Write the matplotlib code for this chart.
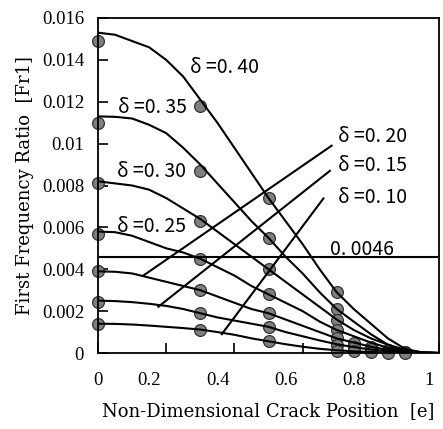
import matplotlib
matplotlib.use("Agg")
import matplotlib.pyplot as plt
from matplotlib.transforms import ScaledTranslation

# ---------------- data ----------------
crack_pos = [0.00, 0.05, 0.10, 0.15, 0.20, 0.25, 0.30, 0.35, 0.40, 0.45, 0.50,
             0.55, 0.60, 0.65, 0.70, 0.75, 0.80, 0.85, 0.90, 0.95, 1.00]

fr_d40 = [0.0153, 0.0152, 0.0149, 0.0146, 0.0140, 0.0132, 0.0121, 0.0110, 0.0098,
          0.0086, 0.0074, 0.0063, 0.0052, 0.0040, 0.0029, 0.0021, 0.0014, 0.0007,
          0.0002, 0.00003, 0.0]
fr_d35 = [0.0113, 0.01128, 0.0112, 0.0109, 0.0105, 0.0098, 0.0090, 0.0081, 0.0072,
          0.0063, 0.0055, 0.0046, 0.0038, 0.0029, 0.0021, 0.0015, 0.0009, 0.0004,
          0.0001, 0.00002, 0.0]
fr_d30 = [0.0082, 0.0081, 0.0080, 0.0078, 0.0074, 0.0069, 0.0064, 0.0058, 0.0052,
          0.0046, 0.0040, 0.0034, 0.0028, 0.0022, 0.0016, 0.0011, 0.0007, 0.0004,
          0.00015, 0.00003, 0.0]
fr_d25 = [0.0058, 0.00577, 0.0056, 0.0053, 0.0050, 0.0048, 0.0045, 0.0041, 0.0037,
          0.0032, 0.0028, 0.0024, 0.0020, 0.0015, 0.0011, 0.0008, 0.0005, 0.00025,
          0.0001, 0.00002, 0.0]
fr_d20 = [0.0039, 0.00388, 0.0038, 0.0036, 0.0034, 0.0032, 0.0030, 0.0027, 0.0024,
          0.0021, 0.0019, 0.0016, 0.0013, 0.0010, 0.0007, 0.0005, 0.0003, 0.00015,
          0.00005, 0.00001, 0.0]
fr_d15 = [0.0025, 0.00248, 0.00243, 0.00235, 0.00225, 0.0021, 0.0019, 0.0017, 0.00155,
          0.0014, 0.00125, 0.0010, 0.0008, 0.0006, 0.00042, 0.00028, 0.00017, 0.00008,
          0.00003, 0.00001, 0.0]
fr_d10 = [0.0014, 0.00139, 0.00136, 0.00131, 0.00125, 0.00119, 0.00112, 0.0010, 0.00087,
          0.0007, 0.00056, 0.00042, 0.0003, 0.0002, 0.00013, 0.00008, 0.00005, 0.00002,
          0.00001, 0.0, 0.0]

# measured points
dot_pos = [0.0, 0.3, 0.5, 0.7]
dots_d40 = [0.0149, 0.0118, 0.0074, 0.0029]
dots_d35 = [0.0110, 0.0087, 0.0055, 0.0021]
dots_d30 = [0.0081, 0.0063, 0.0040, 0.0016]
dots_d25 = [0.0057, 0.0045, 0.0028, 0.0011]
dots_d20 = [0.0039, 0.0030, 0.0019, 0.0007]
dots_d15 = [0.00245, 0.0019, 0.00125, 0.0004]
dots_d10 = [0.0014, 0.0011, 0.00057, 0.0001]

tip_pos = [0.75, 0.80, 0.85, 0.90]
tip_d20 = [0.0005, 0.0003, 0.00015, 0.00005]
tip_d15 = [0.00028, 0.00017, 0.00008, 0.00003]
tip_d10 = [0.00008, 0.00005, 0.00002, 0.00001]

threshold = 0.0046

label_names = ["δ =0. 40", "δ =0. 35", "δ =0. 30", "δ =0. 25",
               "δ =0. 20", "δ =0. 15", "δ =0. 10"]

x_ticks = [0, 0.2, 0.4, 0.6, 0.8, 1.0]
x_ticklabels = ["0", "0.2", "0.4", "0.6", "0.8", "1"]
y_ticks = [0, 0.002, 0.004, 0.006, 0.008, 0.010, 0.012, 0.014, 0.016]
y_ticklabels = ["0", "0.002", "0.004", "0.006", "0.008", "0.01", "0.012", "0.014", "0.016"]

# ---------------- figure ----------------
fig = plt.figure(figsize=(4.43, 4.29), dpi=100)
ax = fig.add_axes([98 / 443, 1 - 353 / 429, 341 / 443, 335 / 429])

curves = [fr_d40, fr_d35, fr_d30, fr_d25, fr_d20, fr_d15, fr_d10]
dots = [dots_d40, dots_d35, dots_d30, dots_d25, dots_d20, dots_d15, dots_d10]

lw = 1.5
for c in curves:
    ax.plot(crack_pos, c, color="black", lw=lw, zorder=3, solid_capstyle="butt",
            solid_joinstyle="round")

mk = dict(marker="o", ms=8.5, mfc="#7f7f7f", mec="#333333", mew=0.9,
          linestyle="none", zorder=2, clip_on=False)
for d in dots:
    ax.plot(dot_pos, d, **mk)
for t in [tip_d20, tip_d15, tip_d10]:
    ax.plot(tip_pos, t, **mk)

ax.axhline(threshold, color="black", lw=lw, zorder=3)

# labels
ann_font = dict(family=["Noto Sans CJK JP", "DejaVu Sans"], fontsize=14,
                va="center", ha="left", zorder=5)
ax.text(0.27, 0.01364, label_names[0], **ann_font)
ax.text(0.06, 0.01171, label_names[1], **ann_font)
ax.text(0.055, 0.00865, label_names[2], **ann_font)
ax.text(0.055, 0.00602, label_names[3], **ann_font)
ax.text(0.704, 0.01032, label_names[4], **ann_font)
ax.text(0.704, 0.00897, label_names[5], **ann_font)
ax.text(0.704, 0.00745, label_names[6], **ann_font)
ax.text(0.68, 0.00496, "0. 0046", **ann_font)

# leader lines
leaders = [((0.685, 0.0099), (0.133, 0.0037)),
           ((0.680, 0.0087), (0.177, 0.00221)),
           ((0.661, 0.00738), (0.363, 0.0009))]
for (x0, y0), (x1, y1) in leaders:
    ax.plot([x0, x1], [y0, y1], color="black", lw=lw, zorder=3)

ax.set_xlim(0, 1)
ax.set_ylim(0, 0.016)

ax.set_xticks(x_ticks)
ax.set_yticks(y_ticks)
tick_font = dict(family="Liberation Serif", fontsize=13.5)
ax.set_xticklabels(x_ticklabels, **tick_font)
ax.set_yticklabels(y_ticklabels, **tick_font)
ax.tick_params(direction="in", length=7, width=1.2, top=False, right=False)
ax.tick_params(axis="y", pad=10)
ax.tick_params(axis="x", pad=14)

# x tick labels in the reference sit left of their ticks
for i, lab in enumerate(ax.get_xticklabels()):
    if i == 0:
        continue
    lab.set_ha("right")
    lab.set_transform(lab.get_transform() + ScaledTranslation(-5 / 100, 0, fig.dpi_scale_trans))

for s in ax.spines.values():
    s.set_linewidth(1.3)

label_font = dict(family="DejaVu Serif", fontsize=13)
ax.set_xlabel("Non-Dimensional Crack Position  [e]", labelpad=9, **label_font)
ax.set_ylabel("First Frequency Ratio  [Fr1]", labelpad=6, **label_font)

fig.savefig("out.png", dpi=100)
